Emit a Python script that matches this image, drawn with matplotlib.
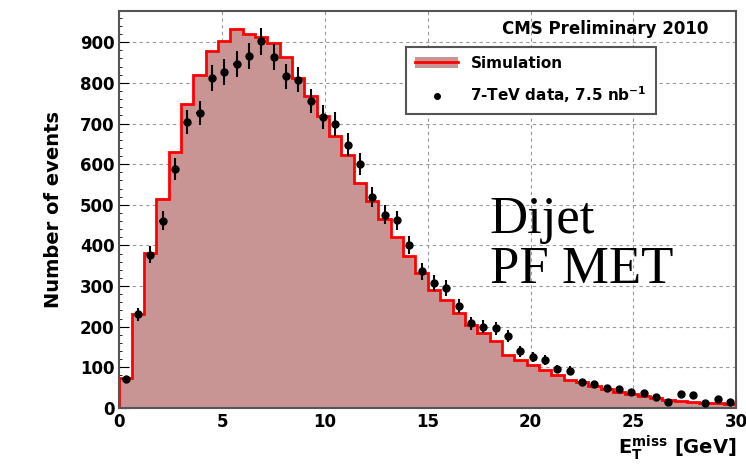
import numpy as np
import matplotlib
matplotlib.use('Agg')
import matplotlib.pyplot as plt
from matplotlib.patches import Patch
from matplotlib.lines import Line2D
from matplotlib.ticker import MultipleLocator

bin_edges = np.linspace(0, 30, 51)

sim_counts = [74, 231, 381, 514, 629, 747, 820, 878, 902, 933,
              920, 912, 897, 863, 812, 767, 718, 670, 623, 554,
              509, 464, 421, 375, 332, 290, 266, 233, 204, 184,
              164, 130, 118, 106, 94, 82, 69, 63, 54, 47,
              40, 35, 30, 24, 20, 17, 15, 13, 12, 10]

data_counts = [70, 230, 377, 461, 588, 703, 726, 812, 826, 847,
               866, 902, 864, 816, 808, 755, 716, 699, 648, 601,
               519, 476, 462, 400, 336, 307, 295, 250, 208, 200,
               196, 176, 139, 125, 118, 96, 92, 63, 59, 48,
               46, 38, 36, 28, 15, 34, 32, 13, 22, 15]

centers = 0.5 * (bin_edges[:-1] + bin_edges[1:])
data = np.array(data_counts)

fig = plt.figure(figsize=(7.46, 4.76), dpi=100)
ax = fig.add_axes([0.16, 0.143, 0.827, 0.834])

ax.stairs(sim_counts, bin_edges, fill=True, color='#c99594', zorder=1)
ax.stairs(sim_counts, bin_edges, color='red', lw=2, zorder=2)
ax.errorbar(centers, data, yerr=1.1 * np.sqrt(data), xerr=0.15, fmt='o',
            color='black', ms=5, elinewidth=1.5, capsize=0, zorder=3)

ax.set_xlim(0, 30)
ax.set_ylim(0, 977)
ax.set_yticks(range(0, 1000, 100))
ax.set_xticks([0, 5, 10, 15, 20, 25, 30])
ax.xaxis.set_minor_locator(MultipleLocator(1))
ax.yaxis.set_minor_locator(MultipleLocator(20))
ax.tick_params(which='both', direction='in', labelsize=12)
ax.tick_params(which='major', length=7)
for lab in ax.get_xticklabels() + ax.get_yticklabels():
    lab.set_fontweight('bold')
ax.grid(True, which='major', linestyle=(0, (3, 3)), color='#999999', lw=0.8)
ax.set_axisbelow(True)
for s in ax.spines.values():
    s.set_color('#555555')
    s.set_linewidth(1.5)

ax.set_ylabel('Number of events', fontsize=14, fontweight='bold', labelpad=12)
ax.set_xlabel(r'$\mathbf{E_T^{miss}}$ [GeV]', fontsize=14, fontweight='bold',
              loc='right', labelpad=2)

ax.text(0.955, 0.955, 'CMS Preliminary 2010', transform=ax.transAxes,
        ha='right', va='center', fontsize=12, fontweight='bold')

handles = [(Patch(facecolor='#c99594'), Line2D([], [], color='red', lw=2)),
           Line2D([], [], marker='o', color='black', ls='none', ms=4)]
leg = ax.legend(handles, ['Simulation', r'7-TeV data, 7.5 nb$^{\mathbf{-1}}$'],
                loc='upper left', bbox_to_anchor=(0.465, 0.91),
                fancybox=False, edgecolor='#555555', framealpha=1,
                prop={'weight': 'bold', 'size': 11}, handlelength=2.8,
                borderpad=0.6, labelspacing=0.9, borderaxespad=0)
leg.get_frame().set_linewidth(1.5)

ax.text(0.6, 0.41, 'Dijet\nPF MET', transform=ax.transAxes,
        fontfamily='Liberation Serif', fontsize=38, va='center', ha='left',
        linespacing=1.05)

fig.savefig('out.png', dpi=100)
